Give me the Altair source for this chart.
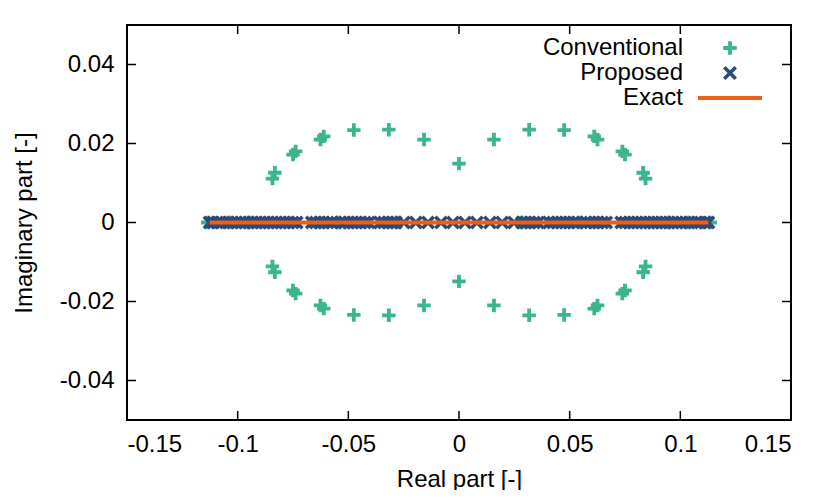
import altair as alt
import pandas as pd

# ---- data ----
# Conventional: complex-conjugate pairs off the axis
conv_upper_x = [-0.0843, -0.0832, -0.0750, -0.0738, -0.0626, -0.0611, -0.0475, -0.0317,
                -0.0158, 0.0, 0.0158, 0.0317, 0.0475, 0.0611, 0.0626, 0.0738, 0.0750,
                0.0832, 0.0843]
conv_upper_y = [0.0111, 0.0126, 0.0172, 0.0180, 0.0210, 0.0218, 0.0234, 0.0235,
                0.0210, 0.0149, 0.0210, 0.0235, 0.0234, 0.0218, 0.0210, 0.0180, 0.0172,
                0.0126, 0.0111]
# Conventional: real eigenvalues on the axis
conv_real_x = [-0.1135, -0.1036, -0.0950, -0.0545, -0.0283,
               0.0283, 0.0545, 0.0950, 0.1036, 0.1135]

# Proposed: all real (left half listed, right half symmetric)
prop_left_x = [-0.1127, -0.1110, -0.1093, -0.1076, -0.1041, -0.1023, -0.1005, -0.0986,
               -0.0968, -0.0950, -0.0932, -0.0914, -0.0896, -0.0878, -0.0860, -0.0842,
               -0.0824, -0.0805, -0.0787, -0.0769, -0.0751, -0.0733, -0.0665, -0.0647,
               -0.0629, -0.0611, -0.0593, -0.0575, -0.0534, -0.0516, -0.0498, -0.0480,
               -0.0462, -0.0443, -0.0425, -0.0407, -0.0357, -0.0339, -0.0321, -0.0303,
               -0.0285, -0.0249, -0.0195, -0.0140, -0.0081, -0.0027]

exact_x = [-0.1127, 0.1127]
exact_y = [0.0, 0.0]

x_ticks = [-0.15, -0.1, -0.05, 0, 0.05, 0.1, 0.15]
y_ticks = [-0.04, -0.02, 0, 0.02, 0.04]
legend_labels = ["Conventional", "Proposed", "Exact"]

GREEN = "#3bb68a"
BLUE = "#2c4a78"
ORANGE = "#ee5f16"
FONT = "Liberation Sans"

# ---- tables ----
conv_x = conv_upper_x + conv_upper_x + conv_real_x
conv_y = conv_upper_y + [-v for v in conv_upper_y] + [0.0] * len(conv_real_x)
conv_df = pd.DataFrame({"x": conv_x, "y": conv_y})

prop_x = prop_left_x + [-v for v in prop_left_x]
prop_df = pd.DataFrame({"x": prop_x, "y": [0.0] * len(prop_x)})

exact_df = pd.DataFrame({"x": exact_x, "y": exact_y})
xt_df = pd.DataFrame({"v": x_ticks})
yt_df = pd.DataFrame({"v": y_ticks})

W, H = 664, 395
TICK = 9
PLUS = "M-1,0L1,0M0,-1L0,1"
CROSS = "M-1,-1L1,1M-1,1L1,-1"

xs = alt.Scale(domain=[-0.15, 0.15], nice=False, zero=False)
ys = alt.Scale(domain=[-0.05, 0.05], nice=False, zero=False)
lab = "datum.value == 0 ? '0' : toString(datum.value)"

x_axis = alt.Axis(values=x_ticks, title="Real part [-]", labelExpr=lab, grid=False,
                  ticks=False, tickSize=0, domain=False, labelPadding=12, titlePadding=11)
y_axis = alt.Axis(values=y_ticks, title="Imaginary part [-]", labelExpr=lab, grid=False,
                  ticks=False, tickSize=0, domain=False, labelPadding=13, titlePadding=23)

conv = alt.Chart(conv_df).mark_point(shape=PLUS, filled=False, stroke=GREEN,
                                     strokeWidth=3.8, size=180, opacity=1).encode(
    x=alt.X("x:Q", scale=xs, axis=x_axis),
    y=alt.Y("y:Q", scale=ys, axis=y_axis),
)
prop = alt.Chart(prop_df).mark_point(shape=CROSS, filled=False, stroke=BLUE,
                                     strokeWidth=3.6, size=130, opacity=1).encode(
    x=alt.X("x:Q", scale=xs), y=alt.Y("y:Q", scale=ys))
exact = alt.Chart(exact_df).mark_line(color=ORANGE, strokeWidth=4).encode(
    x=alt.X("x:Q", scale=xs), y=alt.Y("y:Q", scale=ys))

# inward ticks on all four sides
xt_bot = alt.Chart(xt_df).mark_rule(color="black", strokeWidth=1.5).encode(
    x=alt.X("v:Q", scale=xs), y=alt.value(H), y2=alt.value(H - TICK))
xt_top = alt.Chart(xt_df).mark_rule(color="black", strokeWidth=1.5).encode(
    x=alt.X("v:Q", scale=xs), y=alt.value(0), y2=alt.value(TICK))
yt_left = alt.Chart(yt_df).mark_rule(color="black", strokeWidth=1.5).encode(
    y=alt.Y("v:Q", scale=ys), x=alt.value(0), x2=alt.value(TICK))
yt_right = alt.Chart(yt_df).mark_rule(color="black", strokeWidth=1.5).encode(
    y=alt.Y("v:Q", scale=ys), x=alt.value(W), x2=alt.value(W - TICK))

# manual gnuplot-style key (labels right-aligned, samples on the right)
LX, SX, ROW0, DY = 556, 603, 23, 25
legend_layers = []
for i, name in enumerate(legend_labels):
    legend_layers.append(
        alt.Chart(pd.DataFrame({"t": [name]})).mark_text(
            align="right", baseline="middle", fontSize=24, font=FONT, color="black"
        ).encode(text="t:N", x=alt.value(LX), y=alt.value(ROW0 + i * DY)))
leg_plus = alt.Chart(pd.DataFrame({"t": [legend_labels[0]]})).mark_point(
    shape=PLUS, filled=False, stroke=GREEN, strokeWidth=3.8, size=180, opacity=1).encode(
    x=alt.value(SX), y=alt.value(ROW0))
leg_cross = alt.Chart(pd.DataFrame({"t": [legend_labels[1]]})).mark_point(
    shape=CROSS, filled=False, stroke=BLUE, strokeWidth=3.6, size=130, opacity=1).encode(
    x=alt.value(SX), y=alt.value(ROW0 + DY))
leg_line = alt.Chart(pd.DataFrame({"t": [legend_labels[2]]})).mark_rule(
    color=ORANGE, strokeWidth=4).encode(
    x=alt.value(SX - 32), x2=alt.value(SX + 32), y=alt.value(ROW0 + 2 * DY))

chart = alt.layer(
    conv, prop, exact, xt_bot, xt_top, yt_left, yt_right,
    *legend_layers, leg_plus, leg_cross, leg_line
).properties(
    width=W, height=H, autosize="none",
    padding={"left": 119, "top": 17, "right": 31, "bottom": 70},
).configure_view(
    stroke="black", strokeWidth=2
).configure_axis(
    labelFont=FONT, titleFont=FONT, labelFontSize=24, titleFontSize=24,
    labelColor="black", titleColor="black", titleFontWeight="normal",
)

chart.save("out.html", embed_options={"renderer": "svg", "actions": False})
